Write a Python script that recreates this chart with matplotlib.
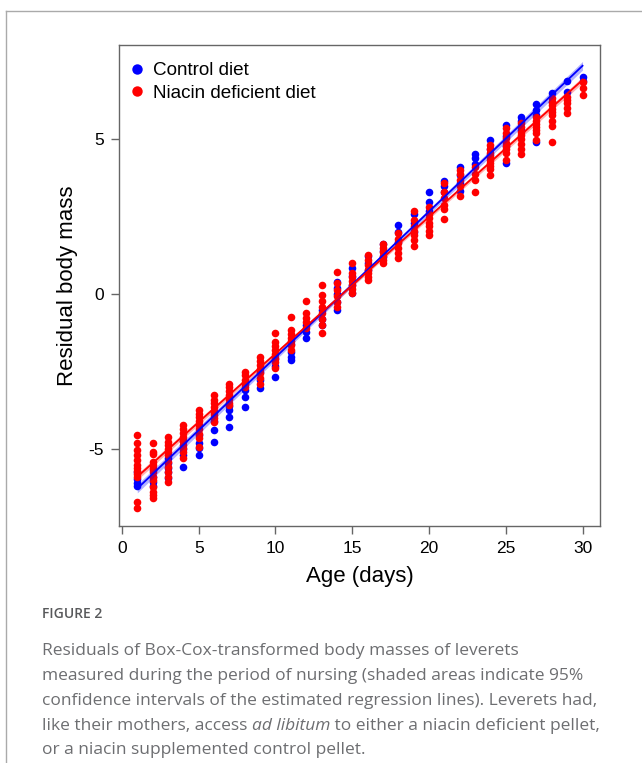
import numpy as np
import matplotlib.pyplot as plt
from matplotlib.lines import Line2D

plt.rcParams['font.family'] = ['Liberation Sans', 'DejaVu Sans']

# residual body mass per day of age
days = list(range(1, 31))
control = [
    [-5.75, -5.95, -6.1, -6.2],
    [-5.68, -5.9, -6.05, -6.2],
    [-5.3, -5.45, -5.6, -5.75, -5.94],
    [-4.75, -5.0, -5.2, -5.57],
    [-4.55, -4.81, -4.97, -5.19],
    [-3.8, -4.1, -4.38, -4.76],
    [-3.6, -3.74, -3.95, -4.28],
    [-2.9, -3.09, -3.31, -3.63],
    [-2.5, -2.75, -3.04],
    [-2.1, -2.3, -2.66],
    [-1.6, -1.85, -2.02, -2.12],
    [-1.0, -1.2, -1.42],
    [-0.5, -0.8, -1.0],
    [0.4, 0.2, 0.0, -0.25, -0.5],
    [0.84, 0.6, 0.3, 0.04],
    [1.25, 1.0, 0.77],
    [1.64, 1.4, 1.2],
    [2.23, 2.0, 1.7],
    [2.6, 2.3, 2.0],
    [3.29, 2.99, 2.7],
    [3.66, 3.5, 3.3],
    [4.1, 3.85, 3.6, 3.34],
    [4.53, 4.4, 4.2],
    [4.98, 4.7, 4.5],
    [5.46, 5.1, 4.8, 4.23],
    [5.73, 5.6, 5.3],
    [6.16, 5.95, 5.8, 4.92],
    [6.51, 6.2],
    [6.88, 6.52],
    [7.02, 6.9],
]
niacin = [
    [-4.55, -4.81, -5.03, -5.2, -5.35, -5.5, -5.6, -5.7, -5.8, -5.9, -6.7, -6.9],
    [-4.79, -5.08, -5.16, -5.41, -5.51, -5.62, -5.73, -5.89, -6.0, -6.21, -6.38, -6.48, -6.59],
    [-4.6, -4.76, -4.87, -4.98, -5.08, -5.19, -5.41, -5.57, -5.73, -5.89, -6.05],
    [-4.22, -4.35, -4.48, -4.6, -4.72, -4.85, -4.97, -5.08, -5.3],
    [-3.74, -3.85, -3.97, -4.1, -4.22, -4.35, -4.5, -4.65, -4.92],
    [-3.25, -3.4, -3.52, -3.65, -3.78, -3.9, -4.0, -4.12],
    [-2.88, -3.0, -3.12, -3.25, -3.38, -3.5, -3.58],
    [-2.5, -2.62, -2.75, -2.87, -2.99],
    [-2.02, -2.15, -2.28, -2.4, -2.55, -2.7, -2.88],
    [-1.26, -1.55, -1.68, -1.8, -1.92, -2.05, -2.2, -2.39],
    [-0.73, -1.16, -1.28, -1.4, -1.52, -1.64, -1.8],
    [-0.21, -0.6, -0.75, -0.9, -1.1],
    [0.3, -0.03, -0.2, -0.4, -0.6, -0.8, -1.0, -1.25],
    [0.73, 0.35, 0.15, -0.05, -0.25, -0.4],
    [1.0, 0.68, 0.55, 0.42, 0.3, 0.18, 0.04],
    [1.27, 1.1, 0.95, 0.8, 0.68, 0.55, 0.46],
    [1.64, 1.5, 1.38, 1.25, 1.12, 1.0],
    [1.97, 1.8, 1.65, 1.5, 1.35, 1.16],
    [2.7, 2.4, 2.2, 2.05, 1.9, 1.75, 1.56],
    [2.83, 2.6, 2.45, 2.3, 2.2, 2.05, 1.91],
    [3.6, 3.3, 3.1, 2.9, 2.77, 2.43],
    [4.01, 3.9, 3.7, 3.5, 3.17],
    [4.1, 3.9, 3.7, 3.31],
    [4.82, 4.7, 4.55, 4.45, 4.35, 4.25, 4.15, 4.05, 3.85],
    [5.36, 5.2, 5.05, 4.9, 4.8, 4.7, 4.55, 4.33],
    [5.52, 5.4, 5.25, 5.15, 5.0, 4.85, 4.7, 4.52],
    [5.73, 5.6, 5.5, 5.4, 5.3, 5.2, 4.98],
    [6.33, 6.2, 6.1, 6.0, 5.9, 5.8, 5.6, 5.45, 4.92],
    [6.38, 6.28, 6.18, 6.02, 5.84],
    [6.86, 6.65, 6.43],
]

# regression lines and 95% CI half widths (read at days 1, 15.5, 30)
fit_days = [1, 15.5, 30]
control_fit = [-6.27, 0.555, 7.38]
niacin_fit = [-5.89, 0.515, 6.92]
control_ci = [0.14, 0.06, 0.14]
niacin_ci = [0.10, 0.05, 0.10]

caption = [
    "Residuals of Box-Cox-transformed body masses of leverets",
    "measured during the period of nursing (shaded areas indicate 95%",
    "confidence intervals of the estimated regression lines). Leverets had,",
]
caption_last = "or a niacin supplemented control pellet."


def flatten(groups):
    xs, ys = [], []
    for d, vals in zip(days, groups):
        xs += [d] * len(vals)
        ys += vals
    return np.array(xs), np.array(ys)


fig = plt.figure(figsize=(6.42, 7.63), dpi=100)
ax = fig.add_axes([0.1861, 0.3106, 0.749, 0.6300])

cx, cy = flatten(control)
nx, ny = flatten(niacin)
ax.scatter(cx, cy, s=30, color='#0000ff', linewidths=0, zorder=2)
ax.scatter(nx, ny, s=30, color='#ff0000', linewidths=0, zorder=3)

for fit, ci, col in [(control_fit, control_ci, '#0000ff'), (niacin_fit, niacin_ci, '#ff0000')]:
    f = np.array(fit)
    c = np.array(ci)
    ax.fill_between(fit_days, f - c, f + c, color=col, alpha=0.3, linewidth=0, zorder=4)
    ax.plot(fit_days, fit, color=col, lw=1.3, zorder=5)

ax.set_xlim(-0.16, 31.16)
ax.set_ylim(-7.48, 8.04)
ax.set_xticks([0, 5, 10, 15, 20, 25, 30])
ax.set_yticks([-5, 0, 5])
ax.set_yticklabels(['-5', '0', '5'])
for sp in ax.spines.values():
    sp.set_color('#666666')
    sp.set_linewidth(1)
ax.tick_params(direction='out', length=6, width=1, color='#666666',
               labelsize=12.5, pad=5)
ax.set_xlabel('Age (days)', fontsize=16, labelpad=7)
ax.set_ylabel('Residual body mass', fontsize=16, labelpad=8)

handles = [
    Line2D([], [], ls='none', marker='o', ms=7.5, color='#0000ff', mec='none'),
    Line2D([], [], ls='none', marker='o', ms=7.5, color='#ff0000', mec='none'),
]
ax.legend(handles, ['Control diet', 'Niacin deficient diet'], loc='upper left',
          bbox_to_anchor=(0.0, 0.991), frameon=False, fontsize=13.6,
          handlelength=0.6, handletextpad=0.5, labelspacing=0.3,
          borderaxespad=0.3, borderpad=0.35)

# page frame lines
fig.add_artist(Line2D([6 / 642, 1], [1 - 11 / 763, 1 - 11 / 763], color='#aaaaaa', lw=1))
fig.add_artist(Line2D([6 / 642, 6 / 642], [0, 1 - 11 / 763], color='#aaaaaa', lw=1))

# caption
cap_font = ['Open Sans', 'DejaVu Sans']
cap_size = 12.5
x0 = 42 / 642
fig.text(x0, 1 - 614 / 763, 'FIGURE 2', fontsize=10, color='#58595b',
         fontweight='semibold', family=cap_font, va='center')
line_y = [651, 676, 701]
for txt, yy in zip(caption, line_y):
    fig.text(x0, 1 - yy / 763, txt, fontsize=cap_size, color='#6d6e71',
             family=cap_font, va='center')

# line with italic part
fig.canvas.draw()
r = fig.canvas.get_renderer()
yy = 1 - 726 / 763
parts = [("like their mothers, access ", 'normal'), ("ad libitum", 'italic'),
         (" to either a niacin deficient pellet,", 'normal')]
xx = x0
for txt, st in parts:
    t = fig.text(xx, yy, txt, fontsize=cap_size, color='#6d6e71', family=cap_font,
                 style=st, va='center')
    bb = t.get_window_extent(renderer=r)
    xx += bb.width / fig.bbox.width
fig.text(x0, 1 - 750 / 763, caption_last, fontsize=cap_size, color='#6d6e71',
         family=cap_font, va='center')

fig.savefig('out.png', dpi=100)
